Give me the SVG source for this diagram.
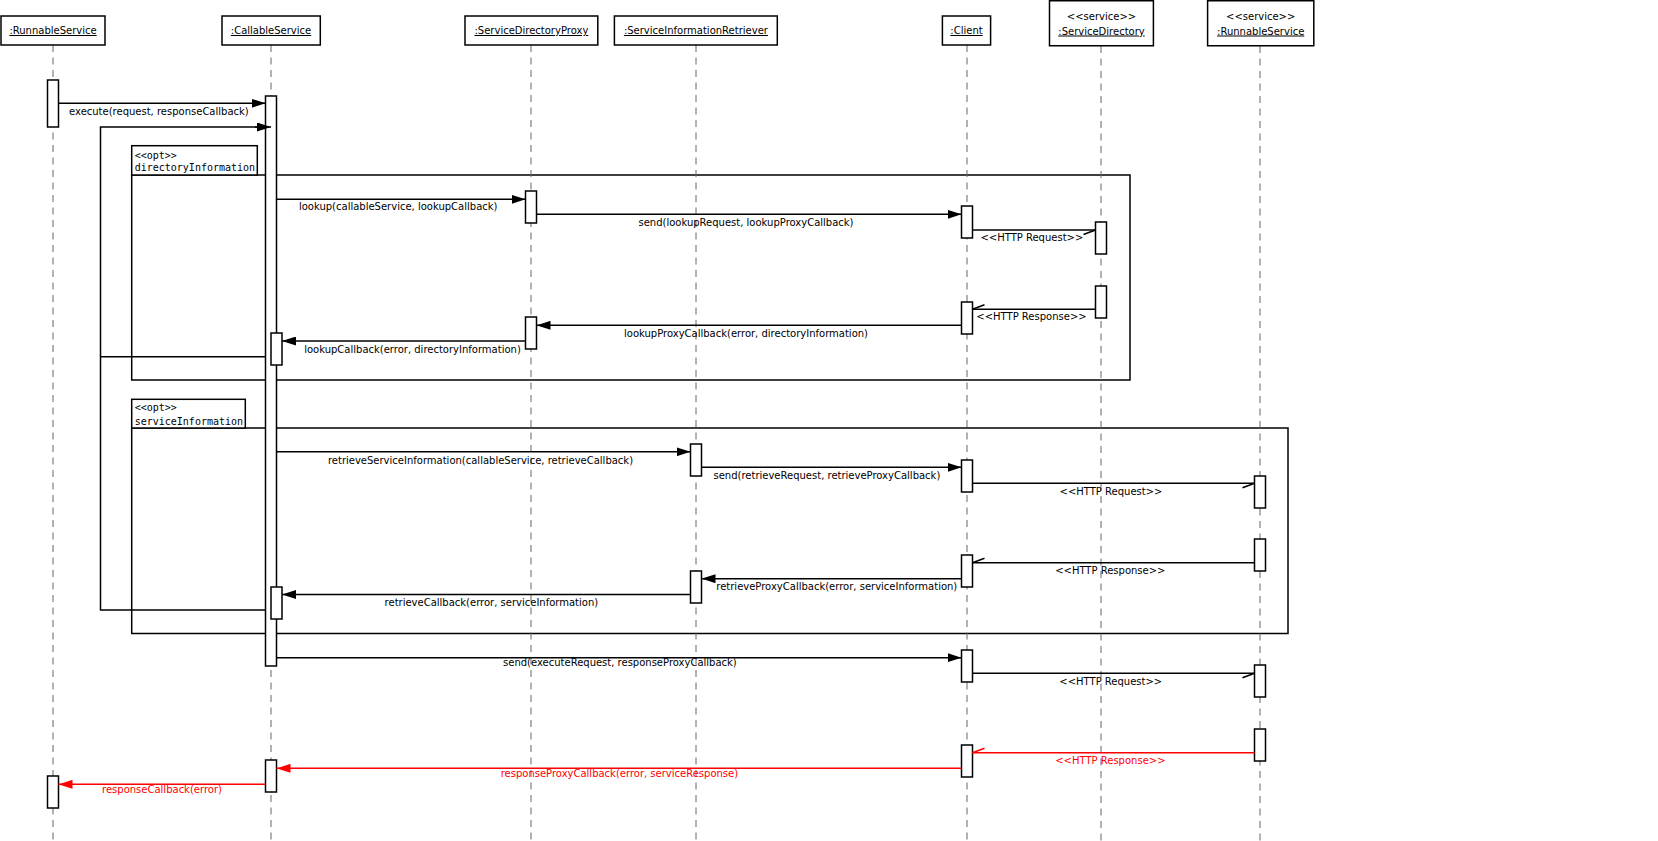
<svg xmlns="http://www.w3.org/2000/svg" width="1658" height="841" viewBox="0 0 1658 841">
  <defs>
    <style>
      .box{fill:#fff;stroke:#000;stroke-width:1.5}
      .name{font-family:"DejaVu Sans",sans-serif;font-size:10px;fill:#000;text-anchor:middle}
      .u{text-decoration:underline}
      .life{stroke:#666;stroke-width:1;stroke-dasharray:7 5.5;fill:none}
      .act{fill:#fff;stroke:#000;stroke-width:1.5}
      .frame{fill:none;stroke:#000;stroke-width:1.5}
      .flabel{fill:#fff;stroke:#000;stroke-width:1.5}
      .ftext{font-family:"DejaVu Sans Mono",monospace;font-size:10px;fill:#000}
      .msg{stroke:#000;stroke-width:1.5;fill:none}
      .msg.red{stroke:#f00}
      .sync{marker-end:url(#arrow)}
      .sync.red{marker-end:url(#arrow-red)}
      .async{marker-end:url(#half)}
      .async.red{marker-end:url(#half-red)}
      .lbl{font-family:"DejaVu Sans",sans-serif;font-size:10px;fill:#000;text-anchor:middle}
      .lbl.red{fill:#f00}
    </style>
    <!-- filled head for synchronous calls -->
    <marker id="arrow" markerUnits="userSpaceOnUse" viewBox="0 0 14 9" refX="14" refY="4.5" markerWidth="14" markerHeight="9" orient="auto">
      <path d="M0,0 L14,4.5 L0,9 z" fill="#000"/>
    </marker>
    <marker id="arrow-red" markerUnits="userSpaceOnUse" viewBox="0 0 14 9" refX="14" refY="4.5" markerWidth="14" markerHeight="9" orient="auto">
      <path d="M0,0 L14,4.5 L0,9 z" fill="#f00"/>
    </marker>
    <!-- half stick head for asynchronous HTTP traffic -->
    <marker id="half" markerUnits="userSpaceOnUse" viewBox="-14 -2 16 9" refX="0" refY="0" markerWidth="16" markerHeight="9" orient="auto" overflow="visible">
      <path d="M0,0 L-12,4.5" stroke="#000" stroke-width="1.5" fill="none"/>
    </marker>
    <marker id="half-red" markerUnits="userSpaceOnUse" viewBox="-14 -2 16 9" refX="0" refY="0" markerWidth="16" markerHeight="9" orient="auto" overflow="visible">
      <path d="M0,0 L-12,4.5" stroke="#f00" stroke-width="1.5" fill="none"/>
    </marker>
  </defs>

  <rect x="0" y="0" width="1658" height="841" fill="#fff"/>

  <!-- combined fragments -->
  <g id="fragments">
    <g id="opt-directory-information">
      <rect class="frame" x="131.7" y="175" width="998.3" height="205"/>
      <rect class="flabel" x="131.7" y="145.7" width="125.6" height="29.3"/>
      <text class="ftext" x="134.7" y="158.5">&lt;&lt;opt&gt;&gt;</text>
      <text class="ftext" x="134.7" y="171">directoryInformation</text>
    </g>
    <g id="opt-service-information">
      <rect class="frame" x="131.7" y="428" width="1156.3" height="205.5"/>
      <rect class="flabel" x="131.7" y="399.3" width="113.6" height="28.7"/>
      <text class="ftext" x="134.7" y="410.8">&lt;&lt;opt&gt;&gt;</text>
      <text class="ftext" x="134.7" y="424.5">serviceInformation</text>
    </g>
  </g>

  <!-- return path of the two optional lookups back into the main flow (runs under the activation bar) -->
  <g id="connectors-return">
    <path class="msg" d="M265.5,610 H100.5 V127 H260"/>
    <path class="msg" d="M265.5,356.7 H100.5"/>
  </g>

  <!-- lifelines -->
  <g id="runnable-service">
    <line class="life" x1="53" y1="45" x2="53" y2="841"/>
    <rect class="box" x="1" y="16" width="104" height="29"/>
    <text class="name u" x="53" y="34">:RunnableService</text>
    <rect class="act" x="47.5" y="80" width="11" height="47"/>
    <rect class="act" x="47.5" y="776" width="11" height="32"/>
  </g>

  <g id="callable-service">
    <line class="life" x1="271" y1="45" x2="271" y2="841"/>
    <rect class="box" x="222" y="16" width="98.3" height="29"/>
    <text class="name u" x="271" y="34">:CallableService</text>
    <rect class="act" x="265.5" y="96" width="11" height="570"/>
    <rect class="act" x="271" y="333" width="11" height="32"/>
    <rect class="act" x="271" y="587" width="11" height="32"/>
    <rect class="act" x="265.5" y="760" width="11" height="32"/>
  </g>

  <g id="service-directory-proxy">
    <line class="life" x1="531" y1="45" x2="531" y2="841"/>
    <rect class="box" x="465" y="16" width="132.8" height="29"/>
    <text class="name u" x="531.4" y="34">:ServiceDirectoryProxy</text>
    <rect class="act" x="525.5" y="191" width="11" height="32"/>
    <rect class="act" x="525.5" y="317" width="11" height="32"/>
  </g>

  <g id="service-information-retriever">
    <line class="life" x1="696" y1="45" x2="696" y2="841"/>
    <rect class="box" x="614.4" y="16" width="162.9" height="29"/>
    <text class="name u" x="695.9" y="34">:ServiceInformationRetriever</text>
    <rect class="act" x="690.5" y="444" width="11" height="32"/>
    <rect class="act" x="690.5" y="571" width="11" height="32"/>
  </g>

  <g id="client">
    <line class="life" x1="967" y1="45" x2="967" y2="841"/>
    <rect class="box" x="942.4" y="16" width="48.2" height="29"/>
    <text class="name u" x="966.5" y="34">:Client</text>
    <rect class="act" x="961.5" y="206" width="11" height="32"/>
    <rect class="act" x="961.5" y="302" width="11" height="32"/>
    <rect class="act" x="961.5" y="460" width="11" height="32"/>
    <rect class="act" x="961.5" y="555" width="11" height="32"/>
    <rect class="act" x="961.5" y="650" width="11" height="32"/>
    <rect class="act" x="961.5" y="745" width="11" height="32"/>
  </g>

  <g id="service-directory">
    <line class="life" x1="1101" y1="46" x2="1101" y2="841"/>
    <rect class="box" x="1049.5" y="0.75" width="103.9" height="45"/>
    <text class="name" x="1101.5" y="19.5">&lt;&lt;service&gt;&gt;</text>
    <text class="name u" x="1101.5" y="34.5">:ServiceDirectory</text>
    <rect class="act" x="1095.5" y="222" width="11" height="32"/>
    <rect class="act" x="1095.5" y="286" width="11" height="32"/>
  </g>

  <g id="runnable-service-remote">
    <line class="life" x1="1260" y1="46" x2="1260" y2="841"/>
    <rect class="box" x="1207.6" y="0.75" width="106.2" height="45"/>
    <text class="name" x="1260.7" y="19.5">&lt;&lt;service&gt;&gt;</text>
    <text class="name u" x="1260.7" y="34.5">:RunnableService</text>
    <rect class="act" x="1254.5" y="476" width="11" height="32"/>
    <rect class="act" x="1254.5" y="539" width="11" height="32"/>
    <rect class="act" x="1254.5" y="665" width="11" height="32"/>
    <rect class="act" x="1254.5" y="729" width="11" height="32"/>
  </g>

  <!-- messages -->
  <g id="connectors">
    <path class="msg sync" d="M58.5,103.3 H265.5"/>
    <text class="lbl" x="158.9" y="115">execute(request, responseCallback)</text>

    <!-- head of the return loop, drawn over the activation bar -->
    <path class="msg sync" d="M255,127 H271"/>

    <path class="msg sync" d="M276.5,199.3 H525.5"/>
    <text class="lbl" x="398.2" y="210">lookup(callableService, lookupCallback)</text>

    <path class="msg sync" d="M536.5,214.3 H961.5"/>
    <text class="lbl" x="746" y="225.8">send(lookupRequest, lookupProxyCallback)</text>

    <path class="msg async" d="M972.5,230 H1095.5"/>
    <text class="lbl" x="1031.9" y="240.8">&lt;&lt;HTTP Request&gt;&gt;</text>

    <path class="msg async" d="M1095.5,309.3 H972.5"/>
    <text class="lbl" x="1031.5" y="320.2">&lt;&lt;HTTP Response&gt;&gt;</text>

    <path class="msg sync" d="M961.5,325.3 H536.5"/>
    <text class="lbl" x="746" y="336.8">lookupProxyCallback(error, directoryInformation)</text>

    <path class="msg sync" d="M525.5,341 H282"/>
    <text class="lbl" x="412.5" y="352.8">lookupCallback(error, directoryInformation)</text>

    <path class="msg sync" d="M276.5,451.8 H690.5"/>
    <text class="lbl" x="480.5" y="463.5">retrieveServiceInformation(callableService, retrieveCallback)</text>

    <path class="msg sync" d="M701.5,467.3 H961.5"/>
    <text class="lbl" x="826.9" y="478.8">send(retrieveRequest, retrieveProxyCallback)</text>

    <path class="msg async" d="M972.5,483.3 H1254.5"/>
    <text class="lbl" x="1111" y="495.2">&lt;&lt;HTTP Request&gt;&gt;</text>

    <path class="msg async" d="M1254.5,562.7 H972.5"/>
    <text class="lbl" x="1110.3" y="574.2">&lt;&lt;HTTP Response&gt;&gt;</text>

    <path class="msg sync" d="M961.5,578.7 H701.5"/>
    <text class="lbl" x="836.8" y="590.2">retrieveProxyCallback(error, serviceInformation)</text>

    <path class="msg sync" d="M690.5,594.5 H282"/>
    <text class="lbl" x="491.4" y="606.2">retrieveCallback(error, serviceInformation)</text>

    <path class="msg sync" d="M276.5,657.7 H961.5"/>
    <text class="lbl" x="619.9" y="665.5">send(executeRequest, responseProxyCallback)</text>

    <path class="msg async" d="M972.5,673.3 H1254.5"/>
    <text class="lbl" x="1110.8" y="685.2">&lt;&lt;HTTP Request&gt;&gt;</text>

    <path class="msg async red" d="M1254.5,752.7 H972.5"/>
    <text class="lbl red" x="1110.4" y="764.2">&lt;&lt;HTTP Response&gt;&gt;</text>

    <path class="msg sync red" d="M961.5,768.3 H276.5"/>
    <text class="lbl red" x="619.4" y="776.8">responseProxyCallback(error, serviceResponse)</text>

    <path class="msg sync red" d="M265.5,784.3 H58.5"/>
    <text class="lbl red" x="162" y="792.5">responseCallback(error)</text>
  </g>
</svg>
